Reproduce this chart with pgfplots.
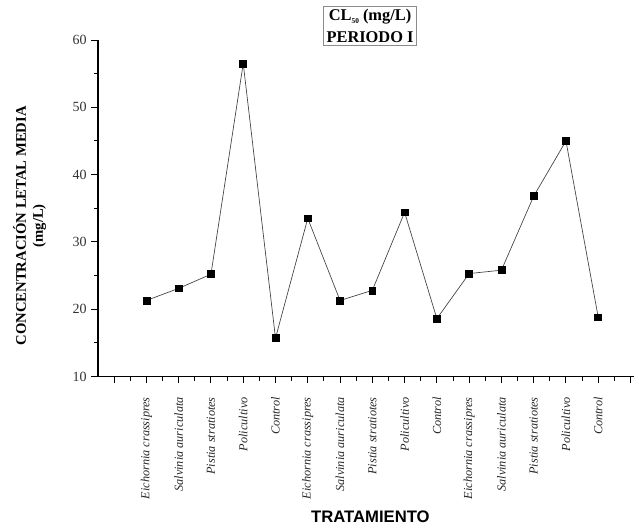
\documentclass[border=0pt]{standalone}
\usepackage{fontspec}
\setmainfont{Liberation Serif}
\newfontfamily\arialfont{Liberation Sans}
\usepackage{pgfplots}
\pgfplotsset{compat=1.18}
\begin{document}
\begin{tikzpicture}
\path[use as bounding box] (-73.5pt,-112.9pt) rectangle (405.75pt,282.4pt);
\begin{axis}[
  at={(0,0)}, anchor=south west,
  scale only axis,
  width=401.8pt, height=252.4pt,
  xmin=-0.5, xmax=16.1,
  ymin=10, ymax=60,
  axis x line=bottom, axis y line=left,
  axis line style={-, line width=0.9pt, black},
  tick align=outside,
  major tick length=5pt, minor tick length=3pt,
  every tick/.style={black, line width=0.7pt},
  xtick={0,...,16},
  minor x tick num=1,
  xticklabels={,Eichornia crassipres,Salvinia auriculata,Pistia stratiotes,Policultivo,Control,Eichornia crassipres,Salvinia auriculata,Pistia stratiotes,Policultivo,Control,Eichornia crassipres,Salvinia auriculata,Pistia stratiotes,Policultivo,Control,},
  xticklabel style={rotate=90, anchor=east, font=\fontsize{9.2}{10}\selectfont\itshape, black!85},
  xticklabel shift=7pt,
  ytick={10,20,...,60},
  minor y tick num=1,
  yticklabel style={font=\fontsize{10.5}{11}\selectfont, black!80},
  /pgf/number format/assume math mode=true,
  clip=false,
]
\addplot[color=black!75, line width=0.5pt, mark=square*, mark size=2.6pt, mark options={solid, fill=black, draw=black}]
  coordinates {
  (1,21.3) (2,23.1) (3,25.2) (4,56.5) (5,15.7)
  (6,33.5) (7,21.3) (8,22.8) (9,34.4) (10,18.6)
  (11,25.3) (12,25.8) (13,36.8) (14,45.0) (15,18.8)
  };
\node[draw=black!45, line width=0.8pt, fill=white, align=center, inner xsep=2pt, inner ysep=1.5pt,
  font=\fontsize{12.3}{17}\selectfont\bfseries] at (axis cs:7.93,62.08)
  {CL\raisebox{-0.4ex}{\fontsize{5.5}{6}\selectfont 50} (mg/L)\\PERIODO I};
\node[rotate=90, align=center, font=\fontsize{11}{12.75}\selectfont\bfseries]
  at ([xshift=-51.2pt]axis cs:-0.5,32.4) {CONCENTRACIÓN LETAL MEDIA\\(mg/L)};
\node[font=\fontsize{12.5}{14}\selectfont\arialfont\bfseries] at ([yshift=-105.4pt]axis cs:7.94,10) {TRATAMIENTO};
\end{axis}
\end{tikzpicture}
\end{document}
